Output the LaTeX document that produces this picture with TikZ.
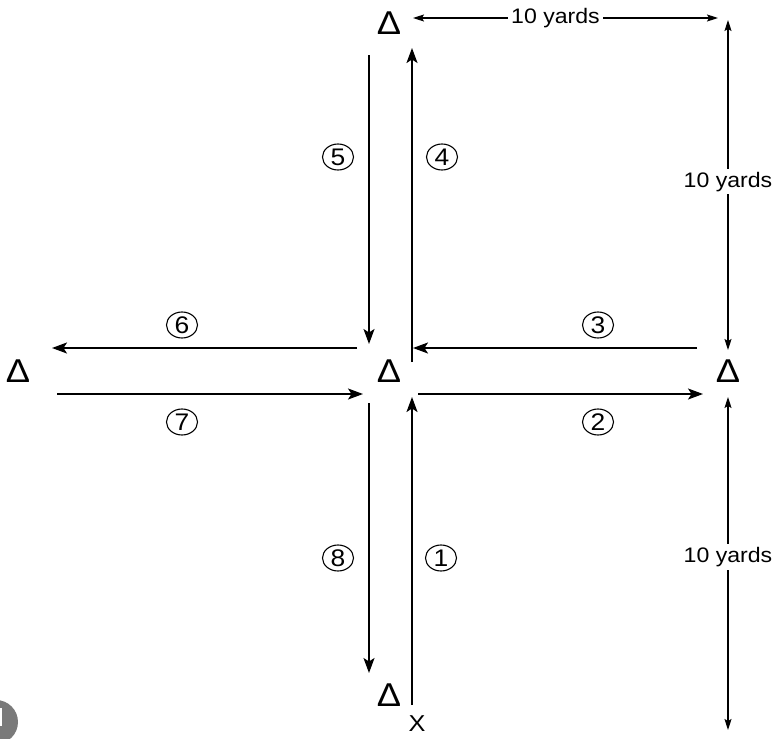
\documentclass[tikz,border=0pt]{standalone}
\usepackage{fontspec}
\setmainfont[FakeStretch=1.1]{Liberation Sans}
\usetikzlibrary{arrows.meta,shapes.geometric}

\begin{document}
\begin{tikzpicture}[x=1pt,y=-1pt,
  cone/.style={inner sep=0pt, font=\fontsize{33}{33}\selectfont},
  lbl/.style={inner sep=3pt, fill=white, font=\fontsize{21}{21}\selectfont},
  num/.style={ellipse, draw, line width=1.1pt, minimum width=31pt, minimum height=26pt,
              inner sep=0pt, font=\fontsize{24}{24}\selectfont},
  run/.style={line width=1.6pt, -{Stealth[length=15pt,width=11pt,inset=3.5pt]}},
  dim/.style={line width=1.1pt, {Stealth[length=11pt,width=7pt,inset=2pt]}-{Stealth[length=11pt,width=7pt,inset=2pt]}}
]
\useasboundingbox (0,0) rectangle (774,739);

% cones
\node[cone] (ctop)    at (389,23)  {Δ};
\node[cone] (cmid)    at (389,371) {Δ};
\node[cone] (cleft)   at (18,371)  {Δ};
\node[cone] (cright)  at (728,371) {Δ};
\node[cone] (cbottom) at (389,695) {Δ};
\node[inner sep=0pt, font=\fontsize{23}{23}\selectfont] (start) at (417,724) {X};

% run endpoints
\coordinate (r1a) at (412,705); \coordinate (r1b) at (412,397);
\coordinate (r2a) at (418,394); \coordinate (r2b) at (703,394);
\coordinate (r3a) at (697,348); \coordinate (r3b) at (413,348);
\coordinate (r4a) at (412,362); \coordinate (r4b) at (412,48);
\coordinate (r5a) at (369,55);  \coordinate (r5b) at (369,344);
\coordinate (r6a) at (357,348); \coordinate (r6b) at (52,348);
\coordinate (r7a) at (57,394);  \coordinate (r7b) at (363,394);
\coordinate (r8a) at (369,403); \coordinate (r8b) at (369,673);

\draw[run] (r1a) -- (r1b);
\draw[run] (r2a) -- (r2b);
\draw[run] (r3a) -- (r3b);
\draw[run] (r4a) -- (r4b);
\draw[run] (r5a) -- (r5b);
\draw[run] (r6a) -- (r6b);
\draw[run] (r7a) -- (r7b);
\draw[run] (r8a) -- (r8b);

% run numbers
\node[num] (n1) at (441,558) {1};
\node[num] (n2) at (598,422) {2};
\node[num] (n3) at (598,325) {3};
\node[num] (n4) at (442,157) {4};
\node[num] (n5) at (338,157) {5};
\node[num] (n6) at (182,325) {6};
\node[num] (n7) at (182,422) {7};
\node[num] (n8) at (338,558) {8};

% distances
\coordinate (dta) at (413,18);  \coordinate (dtb) at (718,18);
\coordinate (dra) at (728,20);  \coordinate (drb) at (728,350);
\coordinate (dla) at (728,397); \coordinate (dlb) at (728,730);
\draw[dim] (dta) -- (dtb) node[lbl, midway, xshift=-10pt] {10 yards};
\draw[dim] (dra) -- (drb) node[lbl, pos=0.49] {10 yards};
\draw[dim] (dla) -- (dlb) node[lbl, pos=0.48] {10 yards};

% page marker
\begin{scope}
  \clip (0,0) rectangle (774,739);
  \fill[black!52] (-4,722) circle (22);
  \fill[white] (-1,708) rectangle (1.5,726);
\end{scope}
\end{tikzpicture}
\end{document}
